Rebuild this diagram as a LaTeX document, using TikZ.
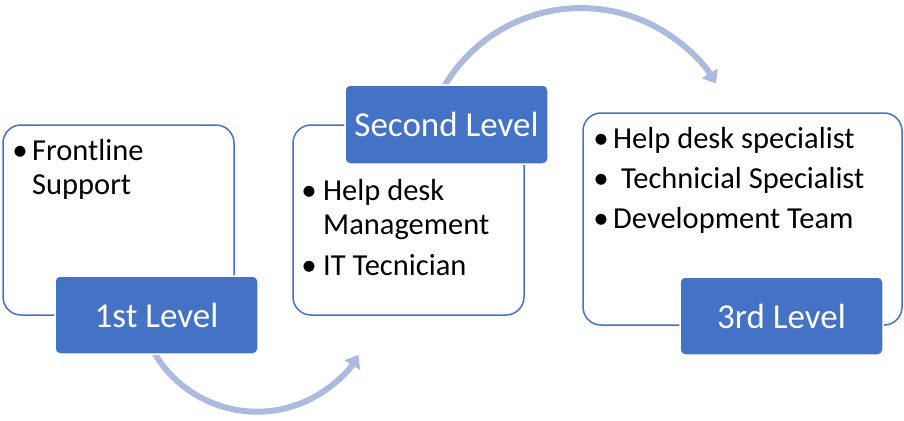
\documentclass[tikz,border=0pt]{standalone}
\usepackage{fontspec}
\setmainfont{Carlito}
\usetikzlibrary{arrows.meta}
\definecolor{accent}{HTML}{4472C4}
\definecolor{arrowc}{HTML}{ADBAE0}
\begin{document}
\begin{tikzpicture}[x=1pt,y=1pt,
  outbox/.style={draw=accent, line width=1.5pt, fill=white, rounded corners=18pt, inner sep=0pt},
  lvlbox/.style={fill=accent, draw=white, line width=1.5pt, rounded corners=5pt, text=white, inner sep=0pt, font=\fontsize{35}{38}\selectfont},
  item/.style={anchor=base west, inner sep=0pt, font=\fontsize{30.5}{34}\selectfont},
  bul/.style={anchor=base, inner sep=0pt, font=\fontsize{31}{34}\selectfont},
  flow/.style={draw=arrowc, line width=6pt, -{Triangle[width=18pt,length=12pt]}}]
\useasboundingbox (0,0) rectangle (904,-420);
% arrows
\coordinate (s1) at (155,-354);
\coordinate (s2) at (445,-85);
\draw[flow] (s1) arc[start angle=211, end angle=328.5, radius=119pt] coordinate (e1);
\draw[flow] (s2) arc[start angle=149, end angle=31.6, radius=158.6pt] coordinate (e2);
% outline boxes
\node[outbox, minimum width=231pt, minimum height=190pt] (b1) at (118.5,-220) {};
\node[outbox, minimum width=231pt, minimum height=190pt] (b2) at (408.5,-220) {};
\node[outbox, minimum width=319pt, minimum height=212pt] (b3) at (742.5,-219) {};
% level boxes
\node[lvlbox, minimum width=203pt, minimum height=78pt] (l1) at (156.5,-315) {1st Level};
\node[lvlbox, minimum width=203pt, minimum height=79pt] (l2) at (446.5,-124.5) {Second Level};
\node[lvlbox, minimum width=203pt, minimum height=78pt] (l3) at (781.5,-316) {3rd Level};
% box 1 text
\node[bul] (d11) at (20,-160) {•};
\node[item] (t11) at (32,-160) {Frontline};
\node[item] (t12) at (32,-194) {Support};
% box 2 text
\node[bul] (d21) at (309,-200) {•};
\node[item] (t21) at (323,-200) {Help desk};
\node[item] (t22) at (323,-234) {Management};
\node[bul] (d22) at (309,-275) {•};
\node[item] (t23) at (323,-275) {IT Tecnician};
% box 3 text
\node[bul] (d31) at (601,-148) {•};
\node[item] (t31) at (613,-148) {Help desk specialist};
\node[bul] (d32) at (601,-188) {•};
\node[item] (t32) at (621,-188) {Technicial Specialist};
\node[bul] (d33) at (601,-228) {•};
\node[item] (t33) at (613,-228) {Development Team};
\end{tikzpicture}
\end{document}
